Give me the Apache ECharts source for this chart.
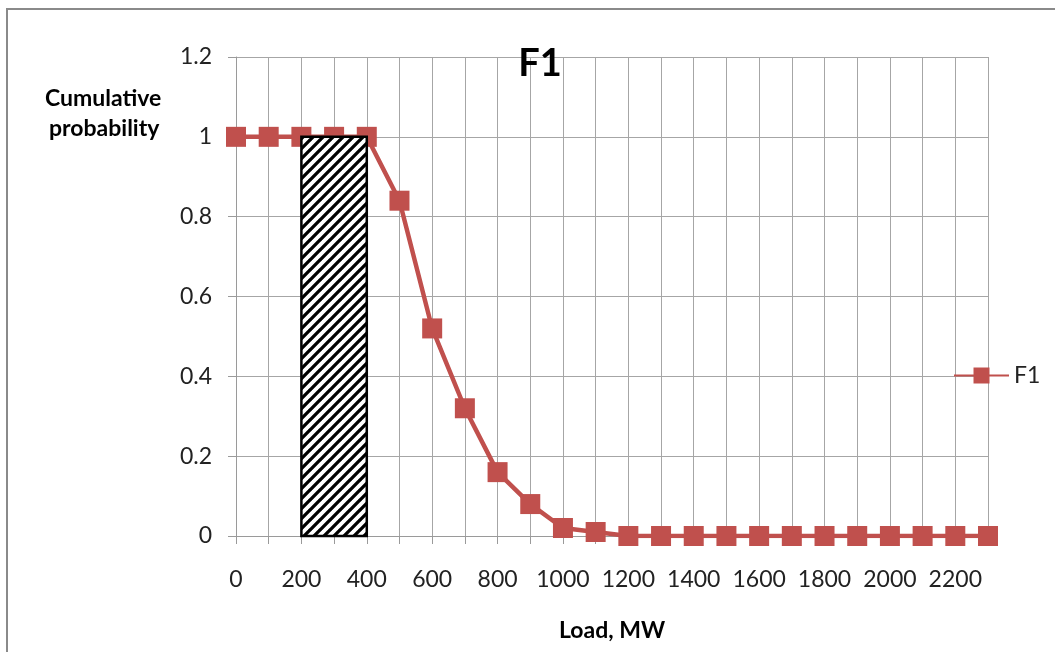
<!DOCTYPE html>
<html>
<head>
<meta charset="utf-8">
<script src="https://cdn.jsdelivr.net/npm/echarts@6/dist/echarts.min.js"></script>
<style>html,body{margin:0;padding:0;background:#fff}#c{width:1055px;height:652px}</style>
</head>
<body>
<div id="c"></div>
<script>
const loads = [0,100,200,300,400,500,600,700,800,900,1000,1100,1200,1300,1400,1500,1600,1700,1800,1900,2000,2100,2200,2300];
const f1 = [1,1,1,1,1,0.84,0.52,0.32,0.16,0.08,0.02,0.01,0,0,0,0,0,0,0,0,0,0,0,0];
const hatchBand = [[200,400,1]];
const yTicks = [0,0.2,0.4,0.6,0.8,1,1.2];

const FONT = 'Lato, "Noto Sans", sans-serif';

function makeHatch(){
  const s = 10;
  const c = document.createElement('canvas');
  c.width = s; c.height = s;
  const g = c.getContext('2d');
  g.fillStyle = '#fff'; g.fillRect(0,0,s,s);
  g.strokeStyle = '#000'; g.lineWidth = 3.3;
  g.beginPath();
  g.moveTo(-1, s+1); g.lineTo(s+1, -1);
  g.moveTo(-1-s, s+1); g.lineTo(1, -1);
  g.moveTo(s-1, s+1); g.lineTo(2*s+1, -1);
  g.stroke();
  return c;
}
const hatch = makeHatch();

const chart = echarts.init(document.getElementById('c'), null, {renderer:'canvas'});
chart.setOption({
  animation:false,
  backgroundColor:'#fff',
  textStyle:{fontFamily:FONT},
  title:{text:'F1', left:535, top:40, textAlign:'center',
    textStyle:{fontSize:38, fontWeight:'bold', color:'#000', fontFamily:FONT}},
  legend:{data:['F1'], left:953, top:364, padding:0, itemWidth:55, itemHeight:20, itemGap:4,
    textStyle:{fontSize:23, color:'#222', fontFamily:FONT}},
  grid:{left:236, right:67, top:57, bottom:116, containLabel:false},
  xAxis:{type:'value', min:0, max:2300, interval:100,
    name:'Load, MW', nameLocation:'middle', nameGap:83,
    nameTextStyle:{fontSize:23, fontWeight:'bold', color:'#000', fontFamily:FONT},
    axisLine:{show:true, lineStyle:{color:'#9a9a9a', width:1}},
    axisTick:{show:true, length:8, lineStyle:{color:'#9a9a9a'}},
    axisLabel:{fontSize:23, color:'#222', margin:32, fontFamily:FONT,
      formatter:v => (v % 200 === 0 ? String(v) : '')},
    splitLine:{show:true, lineStyle:{color:'#a6a6a6', width:1}}},
  yAxis:{type:'value', min:0, max:1.2, interval:0.2,
    axisLine:{show:true, lineStyle:{color:'#9a9a9a', width:1}},
    axisTick:{show:true, length:8, lineStyle:{color:'#9a9a9a'}},
    axisLabel:{fontSize:23, color:'#222', margin:24, fontFamily:FONT,
      formatter:v => { const t = yTicks.find(y => Math.abs(y - v) < 1e-6); return t === undefined ? '' : String(t); }},
    splitLine:{show:true, lineStyle:{color:'#a6a6a6', width:1}}},
  graphic:[
    {type:'rect', shape:{x:7, y:9, width:1200, height:800}, style:{fill:'none', stroke:'#8a8a8a', lineWidth:2}, silent:true, z:100},
    {type:'text', left:45, top:87, style:{text:'Cumulative', fill:'#000', font:'bold 23px ' + FONT}},
    {type:'text', left:49, top:117, style:{text:'probability', fill:'#000', font:'bold 23px ' + FONT}}
  ],
  series:[
    {name:'F1', type:'line', data:loads.map((x,i)=>[x,f1[i]]),
      symbol:'rect', symbolSize:20, z:3,
      lineStyle:{color:'#C0504D', width:4.5},
      itemStyle:{color:'#C0504D'}},
    {name:'band', type:'custom', z:5, data:hatchBand,
      renderItem:(params, api) => {
        const p0 = api.coord([api.value(0), api.value(2)]);
        const p1 = api.coord([api.value(1), 0]);
        return {type:'rect', shape:{x:p0[0], y:p0[1], width:p1[0]-p0[0], height:p1[1]-p0[1]},
          style:{fill:{image:hatch, repeat:'repeat'}, stroke:'#000', lineWidth:2.5}};
      }}
  ]
});
</script>
</body>
</html>
